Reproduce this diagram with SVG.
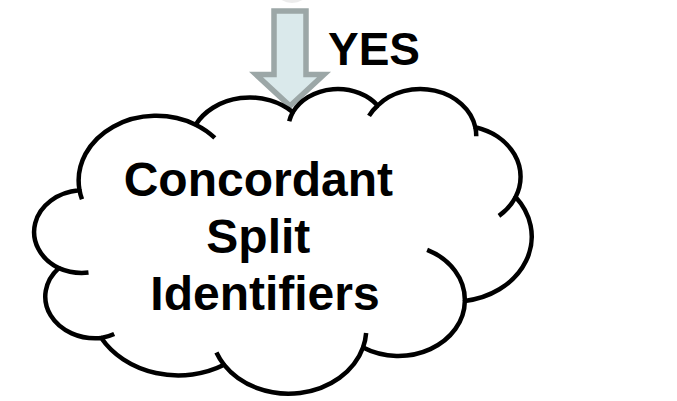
<svg xmlns="http://www.w3.org/2000/svg" width="677" height="401" viewBox="0 0 677 401">
  <style>
    .cloud { fill: #ffffff; stroke: #000000; stroke-width: 4.5; vector-effect: non-scaling-stroke; stroke-linejoin: round; }
    .cloud-inner { fill: none; stroke: #000000; stroke-width: 4.5; vector-effect: non-scaling-stroke; }
    .arrow { fill: #dae9eb; stroke: #9ca7a7; stroke-width: 5.5; stroke-linejoin: miter; }
    .label { font-family: "Liberation Sans", Arial, sans-serif; font-weight: bold; fill: #000000; }
  </style>

  <!-- faint edge of the shape above, cut by the top border -->
  <ellipse cx="292" cy="-6" rx="14" ry="9" fill="#ececec"/>

  <!-- connector: block arrow into the cloud -->
  <g id="connectors">
    <path id="arrow-yes" class="arrow" d="M274,11 H306 V74.5 H324 L290,106 L256,74.5 H274 Z"/>
    <text id="label-yes" class="label" x="328" y="65" font-size="46">YES</text>
  </g>

  <!-- cloud node, drawn in a 43200 x 43200 shape space -->
  <g id="node-concordant">
    <g transform="translate(34.5,88) scale(0.0115046,0.00705)">
      <path class="cloud" d="M3900,14370
        A6753,9190 0 0 1 14005,5202
        A5333,7267 0 0 1 22456,3432
        A4365,5945 0 0 1 29833,2481
        A4857,6595 0 0 1 38318,5576
        A5333,7273 0 0 1 41819,15460
        A6775,9220 0 0 1 37405,30203
        A5785,7867 0 0 1 28556,36813
        A6752,9215 0 0 1 16481,39264
        A7720,10543 0 0 1 5805,35470
        A4360,5918 0 0 1 2114,25548
        A4345,5945 0 0 1 3864,14505 Z"/>
      <path class="cloud-inner" d="M4693,26177 A4345,5945 0 0 1 2114,25548
        M6928,34899 A4360,5918 0 0 1 5805,35470
        M16481,39264 A6752,9215 0 0 1 15813,37525
        M28827,34751 A6752,9215 0 0 1 28556,36813
        M34129,22954 A5785,7867 0 0 1 37405,30203
        M41819,15460 A5333,7273 0 0 1 40370,18136
        M38318,5576 A4857,6595 0 0 1 38395,6840
        M29078,3952 A4857,6595 0 0 1 29833,2481
        M22141,4720 A4365,5945 0 0 1 22456,3432
        M14005,5202 A6753,9190 0 0 1 15672,7077
        M4127,15789 A6753,9190 0 0 1 3900,14370"/>
    </g>
    <text class="label" font-size="48" text-anchor="middle">
      <tspan x="265" y="196">Concordant</tspan>
      <tspan x="265" y="253">Split</tspan>
      <tspan x="265" y="310">Identifiers</tspan>
    </text>
  </g>
</svg>
